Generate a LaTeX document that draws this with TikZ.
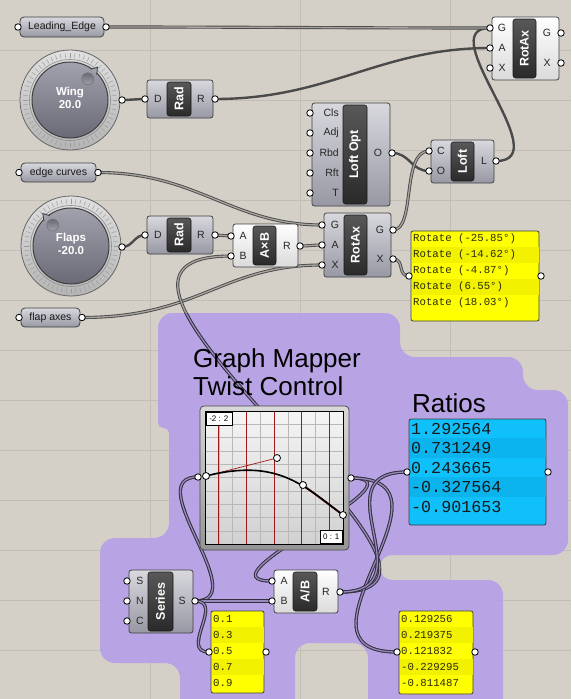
\documentclass[tikz,border=0pt]{standalone}
\usepackage{fontspec}
\usepackage{graphicx}
\setmainfont{Liberation Sans}
\newfontfamily\ghmono{Liberation Mono}
\usetikzlibrary{calc}
\pgfdeclarelayer{grouplayer}
\pgfdeclarelayer{wirelayer}
\pgfsetlayers{grouplayer,wirelayer,main}

\definecolor{bgc}{HTML}{D4D0C8}
\definecolor{gridc}{HTML}{C2BEB6}
\definecolor{grpc}{RGB}{181,159,234}
\definecolor{cmpT}{HTML}{D8D8DE}
\definecolor{cmpB}{HTML}{9898A4}
\definecolor{litT}{HTML}{FFFFFF}
\definecolor{litB}{HTML}{DADADA}
\definecolor{darkT}{HTML}{585858}
\definecolor{darkB}{HTML}{2A2A2A}
\definecolor{ylw}{HTML}{FFFF00}
\definecolor{ylwb}{HTML}{F1F100}
\definecolor{blu}{RGB}{16,192,250}
\definecolor{blub}{RGB}{12,180,238}
\definecolor{ptxt}{HTML}{2C2C08}
\definecolor{wired}{HTML}{4A4A4A}
\definecolor{wirec}{HTML}{A8A5A0}
\definecolor{wirepd}{HTML}{342E40}
\definecolor{wirepc}{HTML}{968ABA}
\definecolor{redl}{HTML}{A01818}
\definecolor{ringT}{HTML}{E0E0E0}
\definecolor{ringB}{HTML}{B4B4B4}
\definecolor{discT}{HTML}{A2A2AE}
\definecolor{discB}{HTML}{6A6A76}

\newcommand{\ghnode}[7]{%
  \pgfmathsetmacro\gcx{(#3+#5)/2}\pgfmathsetmacro\gcy{(#4+#6)/2}%
  \pgfmathsetmacro\gw{#5-#3}\pgfmathsetmacro\gh{#6-#4}%
  \node[#1, minimum width=\gw pt, minimum height=\gh pt] (#2) at (\gcx,\gcy) {#7};}
\newcommand{\ghgrip}[3]{\node[grip] (#1) at (#2,#3) {};}
\newcommand{\ghlbl}[4]{\node[portlbl] (#1) at (#2,#3) {#4};}
\newcommand{\ghwire}[5]{\draw[#1] (#2.center) .. controls ($(#2.center)+(#4,0)$) and ($(#3.center)-(#5,0)$) .. (#3.center);}
\newcommand{\ghdblwires}[1]{%
  \ghwire{#1}{le-o}{rtt-g}{150}{150}
  \ghwire{#1}{rtm-go}{loft-c}{23}{28}
  \ghwire{#1}{ec-o}{rtm-g}{100}{90}
  \ghwire{#1}{rad2-r}{axb-a}{8}{8}
  \ghwire{#1}{axb-r}{rtm-a}{10}{10}
  \ghwire{#1}{fa-o}{rtm-x}{118}{100}
  \ghwire{#1}{ab-r}{axb-b}{180}{212}
  \ghwire{#1}{gm-o}{ab-a}{80}{80}
  \ghwire{#1}{gm-o}{p2-i}{120}{120}
  \ghwire{#1}{ab-r}{rat-i}{90}{90}
  \ghwire{#1}{ser-s}{gm-i}{60}{60}
  \ghwire{#1}{ser-s}{ab-b}{20}{20}
  \ghwire{#1}{ser-s}{p1-i}{30}{30}
  \ghwire{#1}{rtm-xo}{rp-i}{12}{12}}

\tikzset{
  grip/.style={circle, draw=black, fill=white, line width=0.8pt, inner sep=0pt, minimum size=6.5pt},
  comp/.style={draw=black!75, line width=0.8pt, rounded corners=2.5pt, top color=cmpT, bottom color=cmpB, inner sep=0pt, outer sep=0pt},
  compl/.style={comp, top color=litT, bottom color=litB},
  inbox/.style={draw=black!90, line width=0.6pt, rounded corners=2.5pt, top color=darkT, bottom color=darkB, inner sep=0pt, text=white, font=\fontsize{12.5}{13}\selectfont\bfseries},
  portlbl/.style={inner sep=0pt, font=\fontsize{10.5}{11}\selectfont, text=black!85},
  param/.style={comp, rounded corners=4pt, font=\fontsize{10.5}{11}\selectfont, text=black!90},
  panelbox/.style={draw=black!75, line width=0.8pt, rounded corners=2pt, fill=ylw, inner sep=0pt},
  bluebox/.style={draw=black!75, line width=0.8pt, rounded corners=2pt, fill=blu, inner sep=0pt},
  ptext/.style={anchor=west, inner sep=0pt, font=\ghmono\fontsize{10.7}{11}\selectfont, text=ptxt},
  btext/.style={anchor=west, inner sep=0pt, font=\ghmono\fontsize{16.7}{17}\selectfont, text=black!90},
  single/.style={draw=wired, line width=2.4pt},
  dbl/.style={draw=wired, line width=0.9pt, double=wirec, double distance=1.3pt},
  dblp/.style={draw=wirepd, line width=0.9pt, double=wirepc, double distance=1.3pt},
  ring/.style={circle, draw=black!60, line width=0.8pt, top color=ringT, bottom color=ringB, inner sep=0pt, minimum size=100pt},
  disc/.style={circle, draw=black!75, line width=1pt, top color=discT, bottom color=discB, inner sep=0pt, minimum size=76pt},
  knob/.style={circle, draw=black!55, line width=0.6pt, top color=discB, bottom color=discT, inner sep=0pt, minimum size=12pt},
  dialtext/.style={align=center, text=white, font=\fontsize{11.5}{12.5}\selectfont\bfseries},
  gmframe/.style={draw=black!70, line width=0.8pt, rounded corners=4pt, top color=black!15, bottom color=black!42, inner sep=0pt},
  gmplot/.style={draw=black, line width=0.8pt, top color=black!4, bottom color=black!18, inner sep=0pt},
  gmlab/.style={draw=black, line width=0.5pt, fill=white, inner sep=0pt, minimum width=26pt, minimum height=13pt, font=\fontsize{8}{9}\selectfont},
  title/.style={anchor=base west, inner sep=0pt, font=\fontsize{26}{28}\selectfont, text=black}
}

\begin{document}
\begin{tikzpicture}[x=1pt,y=-1pt]
\useasboundingbox (0,0) rectangle (571,699);

\begin{pgfonlayer}{grouplayer}
\fill[bgc] (0,0) rectangle (571,699);
\foreach \yy in {50,100,...,650} {\draw[gridc, line width=0.9pt] (0,\yy) -- (571,\yy);}
\foreach \xx in {150,300,450} {\draw[gridc, line width=0.9pt] (\xx,0) -- (\xx,699);}
\fill[grpc, fill opacity=0.88, rounded corners=15pt] (173,313) -- (400,313) -- (400,357) -- (523,357) -- (523,390) -- (568,390) -- (568,555) [rounded corners=12pt] -- (380,555) -- (380,580) [rounded corners=15pt] -- (503,580) -- (503,720) -- (368,720) -- (368,643) -- (295,643) -- (295,720) -- (180,720) -- (180,663) -- (100,663) -- (100,538) -- (169,538) [rounded corners=5pt] -- (169,428) -- (158,428) [rounded corners=15pt] -- (158,313) -- cycle;
\end{pgfonlayer}

% ---------- parameters ----------
\ghnode{param}{le}{20}{17}{104}{37}{Leading\_Edge}
\ghgrip{le-i}{18}{27} \ghgrip{le-o}{106}{27}
\ghnode{param}{ec}{21}{163}{96}{182}{edge curves}
\ghgrip{ec-i}{19}{172.5} \ghgrip{ec-o}{98}{172.5}
\ghnode{param}{fa}{21}{308}{80}{327}{flap axes}
\ghgrip{fa-i}{19}{317.5} \ghgrip{fa-o}{82}{317.5}

% ---------- Wing dial ----------
\node[ring] (wingring) at (70,100) {};
\foreach \a in {0,6,...,354} {\draw[black!40, line width=0.45pt] ($(wingring.center)+(\a:42.5pt)$) -- ($(wingring.center)+(\a:47pt)$);}
\draw[black!45, line width=0.6pt] (wingring.center) circle (40.5pt);
\node[disc] (wingdisc) at (70,100) {};
\filldraw[fill=discT, draw=black!75, line width=0.8pt] (96.6,74.3) -- (97.6,67.1) -- (90.7,69.3);
\node[knob] (wingknob) at (87.8,78.8) {};
\node[dialtext] (wingtxt) at (70,98) {Wing\\20.0};
\ghgrip{wing-o}{122}{100}

% ---------- Flaps dial ----------
\node[ring] (flring) at (71,246) {};
\foreach \a in {0,6,...,354} {\draw[black!40, line width=0.45pt] ($(flring.center)+(\a:42.5pt)$) -- ($(flring.center)+(\a:47pt)$);}
\draw[black!45, line width=0.6pt] (flring.center) circle (40.5pt);
\node[disc] (fldisc) at (71,246) {};
\filldraw[fill=discT, draw=black!75, line width=0.8pt] (49.8,215.7) -- (42.8,213.5) -- (44.0,220.8);
\node[knob] (flknob) at (52.8,225.1) {};
\node[dialtext] (fltxt) at (71,244) {Flaps\\-20.0};
\ghgrip{flaps-o}{122}{247}

% ---------- Rad (wing) ----------
\ghnode{comp}{rad1}{147}{80}{213}{118}{}
\ghnode{inbox}{rad1b}{167}{82}{191}{116}{\rotatebox{90}{Rad}}
\ghlbl{rad1-dl}{158}{99}{D} \ghlbl{rad1-rl}{201}{99}{R}
\ghgrip{rad1-d}{145}{99} \ghgrip{rad1-r}{215}{99}

% ---------- RotAx (top) ----------
\ghnode{compl}{rtt}{492}{17}{559}{80}{}
\ghnode{inbox}{rttb}{513}{19}{536}{78}{\rotatebox{90}{RotAx}}
\ghlbl{rtt-gl}{502}{28}{G} \ghlbl{rtt-al}{502}{48}{A} \ghlbl{rtt-xl}{502}{68}{X}
\ghlbl{rtt-gol}{547}{33}{G} \ghlbl{rtt-xol}{547}{63}{X}
\ghgrip{rtt-g}{490}{28} \ghgrip{rtt-a}{490}{48} \ghgrip{rtt-x}{490}{68}
\ghgrip{rtt-go}{561}{33} \ghgrip{rtt-xo}{561}{63}

% ---------- Loft Opt ----------
\ghnode{comp}{lo}{312}{103}{390}{206}{}
\ghnode{inbox}{lob}{343}{105}{367}{204}{\rotatebox{90}{Loft Opt}}
\node[portlbl, anchor=east] (lo-l1) at (339,113) {Cls};
\node[portlbl, anchor=east] (lo-l2) at (339,133) {Adj};
\node[portlbl, anchor=east] (lo-l3) at (339,153) {Rbd};
\node[portlbl, anchor=east] (lo-l4) at (339,173) {Rft};
\node[portlbl, anchor=east] (lo-l5) at (339,193) {T};
\ghlbl{lo-ol}{378}{153}{O}
\ghgrip{lo-1}{310}{113} \ghgrip{lo-2}{310}{133} \ghgrip{lo-3}{310}{153} \ghgrip{lo-4}{310}{173} \ghgrip{lo-5}{310}{193}
\ghgrip{lo-o}{392}{153}

% ---------- Loft ----------
\ghnode{comp}{loft}{431}{140}{494}{183}{}
\ghnode{inbox}{loftb}{451}{142}{474}{181}{\rotatebox{90}{Loft}}
\ghlbl{loft-cl}{441}{151}{C} \ghlbl{loft-ol}{441}{171}{O} \ghlbl{loft-ll}{484}{161}{L}
\ghgrip{loft-c}{429}{151} \ghgrip{loft-o}{429}{171} \ghgrip{loft-l}{496}{161}

% ---------- Rad (flaps) ----------
\ghnode{comp}{rad2}{147}{216}{213}{254}{}
\ghnode{inbox}{rad2b}{167}{218}{191}{252}{\rotatebox{90}{Rad}}
\ghlbl{rad2-dl}{158}{235}{D} \ghlbl{rad2-rl}{201}{235}{R}
\ghgrip{rad2-d}{145}{235} \ghgrip{rad2-r}{215}{235}

% ---------- A x B ----------
\ghnode{compl}{axb}{233}{224}{298}{267}{}
\ghnode{inbox}{axbb}{253}{226}{276}{265}{\rotatebox{90}{A×B}}
\ghlbl{axb-al}{243}{236}{A} \ghlbl{axb-bl}{243}{256}{B} \ghlbl{axb-rl}{287}{246}{R}
\ghgrip{axb-a}{231}{236} \ghgrip{axb-b}{231}{256} \ghgrip{axb-r}{300}{246}

% ---------- RotAx (middle) ----------
\ghnode{comp}{rtm}{324}{213}{391}{277}{}
\ghnode{inbox}{rtmb}{344}{215}{367}{275}{\rotatebox{90}{RotAx}}
\ghlbl{rtm-gl}{335}{225}{G} \ghlbl{rtm-al}{335}{245}{A} \ghlbl{rtm-xl}{335}{265}{X}
\ghlbl{rtm-gol}{380}{230}{G} \ghlbl{rtm-xol}{380}{259}{X}
\ghgrip{rtm-g}{322}{225} \ghgrip{rtm-a}{322}{245} \ghgrip{rtm-x}{322}{265}
\ghgrip{rtm-go}{393}{230} \ghgrip{rtm-xo}{393}{259}

% ---------- Rotate panel ----------
\ghnode{panelbox}{rp}{411}{231}{539}{321}{}
\fill[ylwb] (411.5,247) rectangle (538.5,263);
\fill[ylwb] (411.5,279) rectangle (538.5,295);
\node[ptext] (rp-t1) at (413,239) {Rotate (-25.85°)};
\node[ptext] (rp-t2) at (413,255) {Rotate (-14.62°)};
\node[ptext] (rp-t3) at (413,271) {Rotate (-4.87°)};
\node[ptext] (rp-t4) at (413,287) {Rotate (6.55°)};
\node[ptext] (rp-t5) at (413,303) {Rotate (18.03°)};
\ghgrip{rp-i}{409}{276} \ghgrip{rp-o}{541}{276}

% ---------- titles ----------
\node[title] (gmtitle1) at (193,367) {Graph Mapper};
\node[title] (gmtitle2) at (193,395) {Twist Control};
\node[title] (rattitle) at (412,412) {Ratios};

% ---------- Graph Mapper ----------
\ghnode{gmframe}{gm}{200}{406}{349}{550}{}
\ghnode{gmplot}{gmp}{205}{411}{343}{544}{}
\foreach \i in {1,...,9} {
  \draw[black!28, line width=0.4pt] (205+13.8*\i,411.5) -- (205+13.8*\i,543.5);
  \draw[black!28, line width=0.4pt] (205.5,411+13.3*\i) -- (342.5,411+13.3*\i);}
\foreach \i in {1,3,5,7,9} {\draw[redl, line width=0.9pt] (205+13.8*\i,411.5) -- (205+13.8*\i,543.5);}
\coordinate (gmc1) at (206,476);
\coordinate (gmc2) at (277,458);
\coordinate (gmc3) at (303,485);
\coordinate (gmc4) at (343,515);
\draw[redl, line width=0.7pt] (gmc1) -- (gmc2);
\draw[redl!80!black, line width=1.8pt] (gmc3) -- (gmc4);
\draw[black, line width=1.6pt] (gmc1) .. controls (gmc2) and (gmc3) .. (gmc4);
\node[grip, minimum size=7pt] (gmh1) at (gmc1) {};
\node[grip, minimum size=7pt] (gmh2) at (gmc2) {};
\node[grip, minimum size=7pt] (gmh3) at (gmc3) {};
\node[grip, minimum size=7pt] (gmh4) at (gmc4) {};
\node[gmlab, anchor=north west] (gmlab1) at (205.5,411.5) {-2 : 2};
\node[gmlab, anchor=south east, minimum width=22pt] (gmlab2) at (342.5,543.5) {0 : 1};
\ghgrip{gm-i}{198}{477} \ghgrip{gm-o}{351}{478}

% ---------- Ratios panel ----------
\ghnode{bluebox}{ratp}{409}{419}{546}{525}{}
\fill[blub] (409.5,438) rectangle (545.5,458);
\fill[blub] (409.5,477) rectangle (545.5,497);
\node[btext] (rat-t1) at (411,428.5) {1.292564};
\node[btext] (rat-t2) at (411,448) {0.731249};
\node[btext] (rat-t3) at (411,467.5) {0.243665};
\node[btext] (rat-t4) at (411,487) {-0.327564};
\node[btext] (rat-t5) at (411,507) {-0.901653};
\ghgrip{rat-i}{407}{472} \ghgrip{rat-o}{548}{472}

% ---------- Series ----------
\ghnode{comp}{ser}{129}{570}{193}{633}{}
\ghnode{inbox}{serb}{148}{572}{173}{631}{\rotatebox{90}{Series}}
\ghlbl{ser-sl}{140}{581}{S} \ghlbl{ser-nl}{140}{601}{N} \ghlbl{ser-cl}{140}{621}{C} \ghlbl{ser-ol}{182}{601}{S}
\ghgrip{ser-si}{127}{581} \ghgrip{ser-n}{127}{601} \ghgrip{ser-c}{127}{621} \ghgrip{ser-s}{195}{601}

% ---------- A/B ----------
\ghnode{compl}{ab}{274}{570}{338}{613}{}
\ghnode{inbox}{abb}{293}{572}{317}{611}{\rotatebox{90}{A/B}}
\ghlbl{ab-al}{284}{581}{A} \ghlbl{ab-bl}{284}{601}{B} \ghlbl{ab-rl}{326}{592}{R}
\ghgrip{ab-a}{272}{581} \ghgrip{ab-b}{272}{601} \ghgrip{ab-r}{340}{592}

% ---------- panel 0.1 ... ----------
\ghnode{panelbox}{p1}{211}{611}{264}{693}{}
\fill[ylwb] (211.5,627) rectangle (263.5,643);
\fill[ylwb] (211.5,659) rectangle (263.5,675);
\node[ptext] (p1-t1) at (213,619) {0.1};
\node[ptext] (p1-t2) at (213,635) {0.3};
\node[ptext] (p1-t3) at (213,651) {0.5};
\node[ptext] (p1-t4) at (213,667) {0.7};
\node[ptext] (p1-t5) at (213,683) {0.9};
\ghgrip{p1-i}{209}{652} \ghgrip{p1-o}{266}{652}

% ---------- panel results ----------
\ghnode{panelbox}{p2}{399}{611}{473}{694}{}
\fill[ylwb] (399.5,627) rectangle (472.5,643);
\fill[ylwb] (399.5,659) rectangle (472.5,675);
\node[ptext] (p2-t1) at (401,619) {0.129256};
\node[ptext] (p2-t2) at (401,635) {0.219375};
\node[ptext] (p2-t3) at (401,651) {0.121832};
\node[ptext] (p2-t4) at (401,667) {-0.229295};
\node[ptext] (p2-t5) at (401,683) {-0.811487};
\ghgrip{p2-i}{397}{652} \ghgrip{p2-o}{475}{652}

% ---------- wires ----------
\begin{pgfonlayer}{wirelayer}
\ghwire{single}{wing-o}{rad1-d}{8}{8}
\ghwire{single}{rad1-r}{rtt-a}{115}{110}
\ghwire{single}{loft-l}{rtt-g}{63}{60}
\ghwire{single}{lo-o}{loft-o}{18}{18}
\ghwire{single}{flaps-o}{rad2-d}{11}{11}
\ghdblwires{dbl}
\begin{scope}
\clip[rounded corners=15pt] (173,313) -- (400,313) -- (400,357) -- (523,357) -- (523,390) -- (568,390) -- (568,555) [rounded corners=12pt] -- (380,555) -- (380,580) [rounded corners=15pt] -- (503,580) -- (503,720) -- (368,720) -- (368,643) -- (295,643) -- (295,720) -- (180,720) -- (180,663) -- (100,663) -- (100,538) -- (169,538) [rounded corners=5pt] -- (169,428) -- (158,428) [rounded corners=15pt] -- (158,313) -- cycle;
\ghdblwires{dblp}
\end{scope}
\end{pgfonlayer}
\end{tikzpicture}
\end{document}
